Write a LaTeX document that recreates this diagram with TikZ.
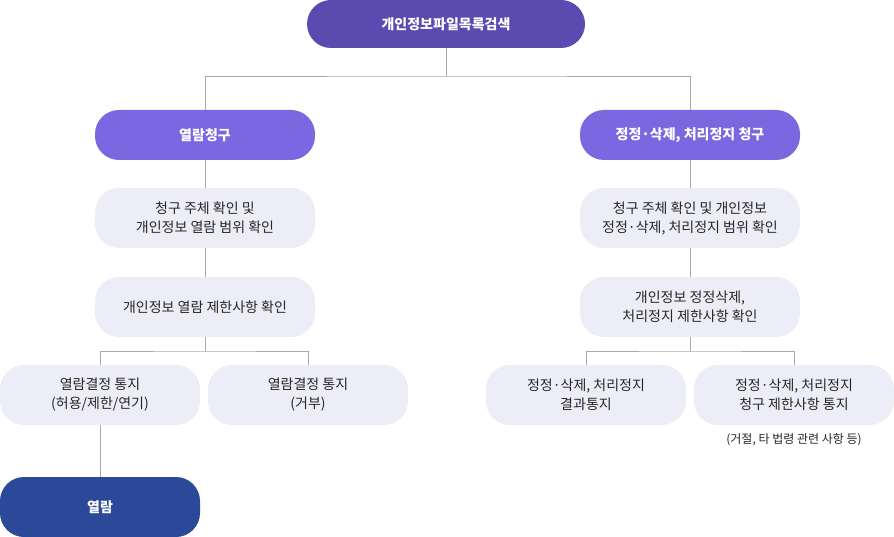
\documentclass[tikz,border=0pt]{standalone}
\usepackage{fontspec}
\setmainfont{Noto Sans CJK KR}
\usetikzlibrary{positioning}
\definecolor{topc}{HTML}{5B4AB0}
\definecolor{reqc}{HTML}{7B67E0}
\definecolor{stepc}{HTML}{EDEDF8}
\definecolor{endc}{HTML}{2C4898}
\definecolor{linec}{HTML}{A8A8A8}
\tikzset{
  pill/.style={rounded corners=24pt, minimum height=#1, align=center,
    font=\fontsize{14}{19}\selectfont, inner sep=0pt},
  topbox/.style={pill=48pt, fill=topc, text=white, minimum width=278pt, font=\fontsize{14}{19}\selectfont\bfseries},
  reqbox/.style={pill=50pt, fill=reqc, text=white, minimum width=220pt, font=\fontsize{14}{19}\selectfont\bfseries},
  stepbox/.style={pill=60pt, fill=stepc, text=black!85, minimum width=220pt},
  leafbox/.style={pill=60pt, fill=stepc, text=black!85, minimum width=200pt},
  endbox/.style={pill=60pt, fill=endc, text=white, minimum width=200pt, font=\fontsize{14}{19}\selectfont\bfseries},
  conn/.style={draw=linec, line width=0.7pt},
}
\begin{document}
\begin{tikzpicture}[x=1pt,y=-1pt]
  \useasboundingbox (0,0) rectangle (894,537);

  \node[topbox] (top) at (446,24) {개인정보파일목록검색};

  \node[reqbox] (read) at (205,135) {열람청구};
  \node[reqbox] (fix) at (690,135) {정정·삭제, 처리정지 청구};

  \node[stepbox] (r1) at (205,218) {청구 주체 확인 및\\개인정보 열람 범위 확인};
  \node[stepbox] (r2) at (205,307) {개인정보 열람 제한사항 확인};
  \node[stepbox] (f1) at (690,218) {청구 주체 확인 및 개인정보\\정정·삭제, 처리정지 범위 확인};
  \node[stepbox] (f2) at (690,307) {개인정보 정정삭제,\\처리정지 제한사항 확인};

  \node[leafbox] (rok) at (100,395) {열람결정 통지\\(허용/제한/연기)};
  \node[leafbox] (rno) at (308,395) {열람결정 통지\\(거부)};
  \node[leafbox] (fok) at (586,395) {정정·삭제, 처리정지\\결과통지};
  \node[leafbox] (fno) at (794,395) {정정·삭제, 처리정지\\청구 제한사항 통지};
  \node[font=\fontsize{12}{14}\selectfont, text=black!85] (note) at (794,440) {(거절, 타 법령 관련 사항 등)};

  \node[endbox] (view) at (100,507) {열람};

  % connectors
  \coordinate (tj) at (446,76);
  \draw[conn] (top) -- (tj);
  \draw[conn] (read.north) |- (tj) -| (fix.north);
  \draw[conn] (read) -- (r1);
  \draw[conn] (r1) -- (r2);
  \draw[conn] (fix) -- (f1);
  \draw[conn] (f1) -- (f2);

  \coordinate (rj) at (205,351);
  \coordinate (fj) at (690,351);
  \draw[conn] (r2) -- (rj);
  \draw[conn] (rok.north) |- (rj) -| (rno.north);
  \draw[conn] (f2) -- (fj);
  \draw[conn] (fok.north) |- (fj) -| (fno.north);

  \draw[conn] (rok) -- (view);
\end{tikzpicture}
\end{document}
